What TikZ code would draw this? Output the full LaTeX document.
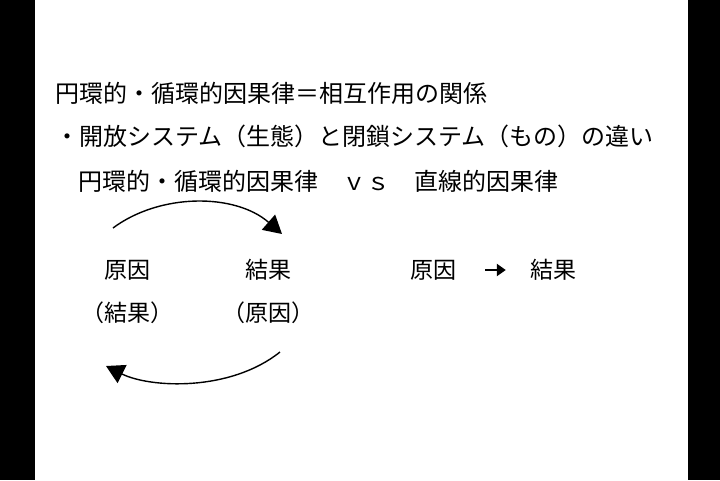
\documentclass[tikz,border=0pt]{standalone}
\usepackage{fontspec}
\setmainfont{Noto Sans CJK JP}
\usetikzlibrary{arrows.meta,positioning}

\begin{document}
\begin{tikzpicture}[
        x=1pt, y=-1pt,
        line/.style={anchor=west, inner sep=0pt, font=\fontsize{24}{28}\selectfont},
        word/.style={inner sep=0pt, font=\fontsize{23}{26}\selectfont},
        loop/.style={line width=1.4pt, -{Triangle[length=18pt,width=20pt]}}
    ]
        \useasboundingbox (0,0) rectangle (720,480);
        \fill[black] (0,0) rectangle (35,480);
        \fill[black] (688,0) rectangle (720,480);
        \node[line] (title) at (55,93) {円環的・循環的因果律＝相互作用の関係};
        \node[line] (open) at (55,136) {・開放システム（生態）と閉鎖システム（もの）の違い};
        \node[line] (versus) at (78,181) {円環的・循環的因果律　ｖｓ　直線的因果律};
        
        \node[word] (cause) at (127,270) {原因};
        \node[word] (effect) at (268,270) {結果};
        \node[word] (effect2) at (127,313) {（結果）};
        \node[word] (cause2) at (268,313) {（原因）};
        \node[word] (lcause) at (433,270) {原因};
        \node[word] (leffect) at (553,270) {結果};
        
        % circular arrows
        \coordinate (topstart) at (113,228);
        \coordinate (topend) at (282,234);
        \coordinate (botstart) at (280,352);
        \coordinate (botend) at (106,366);
        \draw[loop] (topstart) .. controls (160,193) and (235,193) .. (topend);
        \draw[loop] (botstart) .. controls (230,392) and (150,388) .. (botend);
        
        \draw[line width=2.5pt, -{Triangle[length=9pt,width=12pt]}, shorten <=29pt, shorten >=24pt] (lcause) -- (leffect);
\end{tikzpicture}
\end{document}
